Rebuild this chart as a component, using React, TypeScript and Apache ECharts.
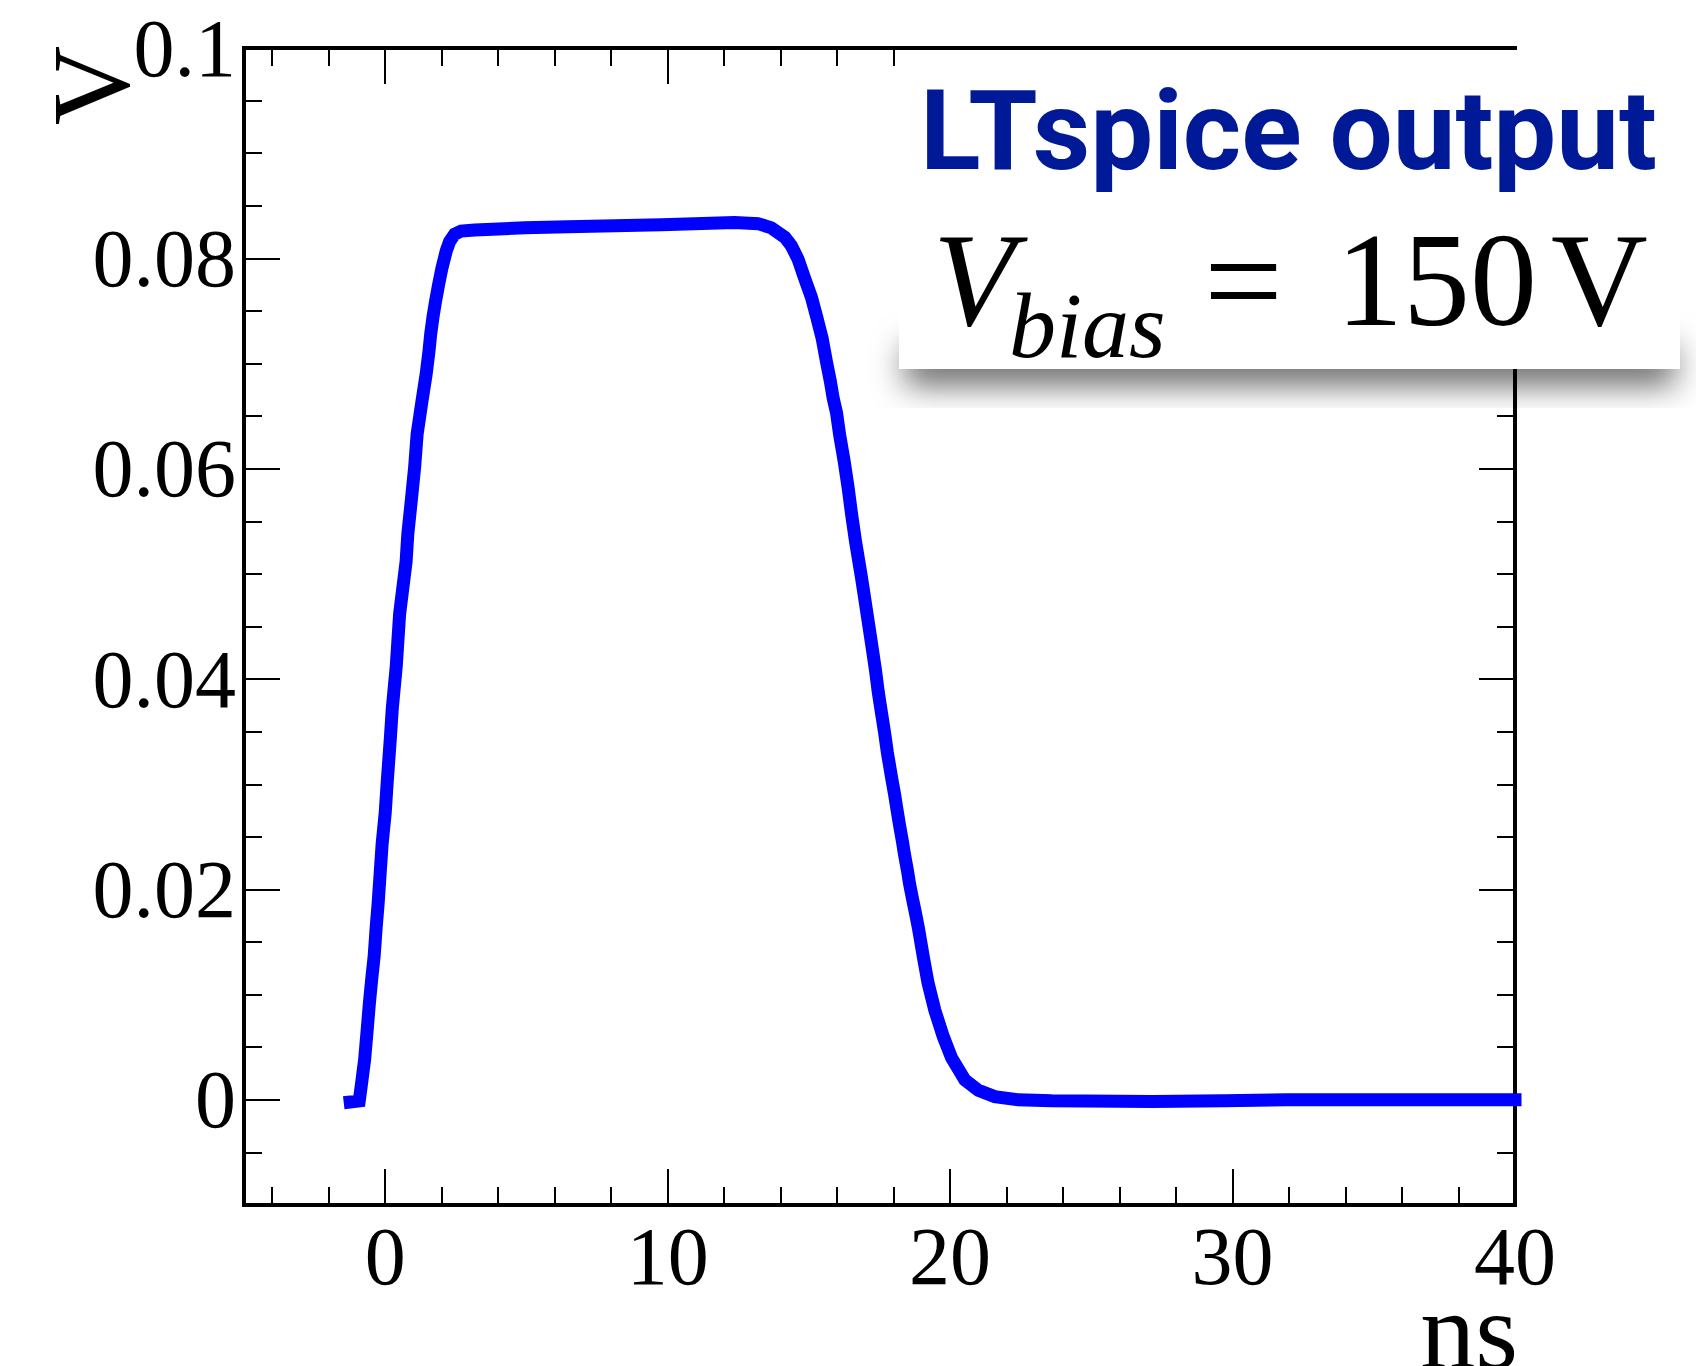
import React, { useEffect, useRef } from "react";
import * as echarts from "echarts";

// time in ns
const TIME_NS = [
  -1.24, -0.92, -0.85, -0.73, -0.64, -0.56, -0.47, -0.39, -0.32, -0.25, -0.18, -0.11,
  0.0, 0.07, 0.18, 0.25, 0.39, 0.51, 0.74, 0.8, 0.92, 1.04, 1.13, 1.3, 1.45, 1.55,
  1.61, 1.69, 1.78, 1.89, 2.01, 2.16, 2.28, 2.46, 2.69, 3.17, 4.0, 4.94, 6.47, 9.78,
  12.37, 13.2, 13.67, 14.15, 14.38, 14.62, 14.85, 15.09, 15.27, 15.47, 15.62, 15.76,
  15.86, 15.98, 16.09, 16.25, 16.39, 16.51, 16.65, 16.86, 16.98, 17.16, 17.25, 17.36,
  17.46, 17.57, 17.68, 17.78, 17.93, 18.03, 18.1, 18.21, 18.31, 18.38, 18.49, 18.56,
  18.67, 18.77, 18.88, 19.05, 19.22, 19.46, 19.76, 20.05, 20.52, 21.0, 21.58, 22.41,
  23.59, 27.17, 29.7, 31.9, 40.0,
];
// output voltage in V
const VOLTS = [
  -0.0002, -0.0001, 0.0013, 0.0038, 0.0066, 0.0092, 0.0117, 0.0137, 0.0164, 0.0187, 0.0215, 0.0243,
  0.0273, 0.0302, 0.0343, 0.0372, 0.0412, 0.0462, 0.0512, 0.0538, 0.0569, 0.0601, 0.0633, 0.0664, 0.069, 0.0712,
  0.0728, 0.0744, 0.0759, 0.0775, 0.0791, 0.0807, 0.0816, 0.0823, 0.0826, 0.0827, 0.0828, 0.0829, 0.083, 0.0832,
  0.0834, 0.0833, 0.0829, 0.082, 0.0812, 0.0799, 0.0781, 0.0763, 0.0745, 0.0724, 0.0702, 0.0683,
  0.0667, 0.0653, 0.0632, 0.0607, 0.0582, 0.0557, 0.0531, 0.0497, 0.0476, 0.0444, 0.0428, 0.0408,
  0.0387, 0.0368, 0.0349, 0.033, 0.0306, 0.0291, 0.0279, 0.0261, 0.0246, 0.0234, 0.0218, 0.0206,
  0.0191, 0.0178, 0.0163, 0.0136, 0.0111, 0.0085, 0.006, 0.004, 0.0019, 0.0009, 0.0003, 0.0,
  -0.0001, -0.00016, -0.0001, 0.0, 0.0,
];

const X_MIN = -5;
const X_MAX = 40;
const Y_MIN = -0.01;
const Y_MAX = 0.1;
const X_MAJOR = [0, 10, 20, 30, 40];
const X_MINOR = [-4, -2, 2, 4, 6, 8, 12, 14, 16, 18, 22, 24, 26, 28, 32, 34, 36, 38];
const Y_MAJOR = [0, 0.02, 0.04, 0.06, 0.08, 0.1];
const Y_MINOR = [-0.005, 0.005, 0.01, 0.015, 0.025, 0.03, 0.035, 0.045, 0.05, 0.055, 0.065, 0.07, 0.075, 0.085, 0.09, 0.095];

const X_TITLE = "ns";
const Y_TITLE = "V";
const BOX_TITLE = "LTspice output";

const SERIF = '"Liberation Serif", "Times New Roman", serif';

function makeAxis(pos: string, min: number, max: number, ticks: number[], len: number, labels: boolean) {
  return {
    type: "value",
    min,
    max,
    position: pos,
    axisLine: { show: false, onZero: false },
    splitLine: { show: false },
    axisTick: {
      show: true,
      inside: true,
      length: len,
      customValues: ticks,
      lineStyle: { color: "#000", width: 2 },
    },
    axisLabel: labels
      ? {
          show: true,
          customValues: ticks,
          fontFamily: SERIF,
          fontSize: 82,
          color: "#000",
          margin: pos === "bottom" ? 10 : 8,
        }
      : { show: false },
  };
}

export default function App() {
  const ref = useRef<HTMLDivElement>(null);
  useEffect(() => {
    if (!ref.current) return;
    const chart = echarts.init(ref.current, null, { renderer: "svg" });
    const data = TIME_NS.map((t, i) => [t, VOLTS[i]]);
    chart.setOption({
      animation: false,
      backgroundColor: "#fff",
      grid: {
        left: 244,
        top: 48,
        right: 181,
        bottom: 161,
        show: true,
        borderColor: "#000",
        borderWidth: 4,
        backgroundColor: "transparent",
      },
      xAxis: [
        makeAxis("bottom", X_MIN, X_MAX, X_MAJOR, 36, true),
        makeAxis("bottom", X_MIN, X_MAX, X_MINOR, 18, false),
        makeAxis("top", X_MIN, X_MAX, X_MAJOR, 36, false),
        makeAxis("top", X_MIN, X_MAX, X_MINOR, 18, false),
      ],
      yAxis: [
        makeAxis("left", Y_MIN, Y_MAX, Y_MAJOR, 36, true),
        makeAxis("left", Y_MIN, Y_MAX, Y_MINOR, 18, false),
        makeAxis("right", Y_MIN, Y_MAX, Y_MAJOR, 36, false),
        makeAxis("right", Y_MIN, Y_MAX, Y_MINOR, 18, false),
      ],
      series: [
        {
          type: "line",
          xAxisIndex: 0,
          yAxisIndex: 0,
          data,
          symbol: "none",
          showSymbol: false,
          lineStyle: { color: "#0000ff", width: 13, cap: "square", join: "miter" },
          z: 5,
        },
      ],
      graphic: [
        {
          type: "text",
          x: 90.5,
          y: 85.5,
          rotation: Math.PI / 2,
          z: 50,
          style: { text: Y_TITLE, fontFamily: SERIF, fontSize: 110, fill: "#000", align: "center", verticalAlign: "middle" },
        },
        {
          type: "text",
          x: 1518,
          y: 1331,
          z: 50,
          style: { text: X_TITLE, fontFamily: SERIF, fontSize: 110, fill: "#000", align: "right", verticalAlign: "middle" },
        },
        {
          // shadow caster hidden beneath the label box
          type: "rect",
          z: 99,
          shape: { x: 905, y: 330, width: 770, height: 39 },
          style: { fill: "#fff", shadowBlur: 32, shadowOffsetY: 16, shadowColor: "rgba(0,0,0,0.6)" },
        },
        {
          type: "rect",
          z: 100,
          shape: { x: 899, y: 50, width: 781, height: 319 },
          style: { fill: "#fff" },
        },
        {
          type: "text",
          x: 920,
          y: 130,
          z: 101,
          style: {
            text: BOX_TITLE,
            fontFamily: "Roboto",
            fontWeight: "bold",
            fontSize: 112,
            fill: "#001996",
            align: "left",
            verticalAlign: "middle",
          },
        },
        {
          type: "text",
          x: 933,
          y: 280,
          z: 101,
          style: { text: "V", fontFamily: SERIF, fontStyle: "italic", fontSize: 134, fill: "#000", align: "left", verticalAlign: "middle" },
        },
        {
          type: "text",
          x: 1009,
          y: 325,
          z: 101,
          style: { text: "bias", fontFamily: SERIF, fontStyle: "italic", fontSize: 94, fill: "#000", align: "left", verticalAlign: "middle" },
        },
        {
          type: "text",
          x: 1204,
          y: 280,
          z: 101,
          style: { text: "=", fontFamily: SERIF, fontSize: 140, fill: "#000", align: "left", verticalAlign: "middle" },
        },
        {
          type: "text",
          x: 1336,
          y: 280,
          z: 101,
          style: { text: "150", fontFamily: SERIF, fontSize: 134, fill: "#000", align: "left", verticalAlign: "middle" },
        },
        {
          type: "text",
          x: 1551,
          y: 280,
          z: 101,
          style: { text: "V", fontFamily: SERIF, fontSize: 134, fill: "#000", align: "left", verticalAlign: "middle" },
        },
      ],
    });
    return () => chart.dispose();
  }, []);
  return (
    <div
      ref={ref}
      style={{ position: "absolute", left: 0, top: 0, width: 1696, height: 1366 }}
    />
  );
}
